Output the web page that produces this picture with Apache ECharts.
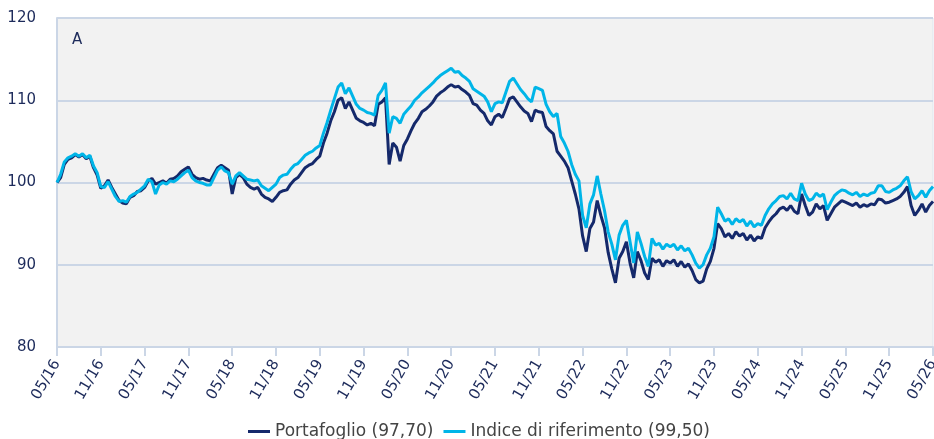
<!DOCTYPE html>
<html>
<head>
<meta charset="utf-8">
<script src="https://cdn.jsdelivr.net/npm/echarts@6/dist/echarts.min.js"></script>
<style>
html,body{margin:0;padding:0;background:#fff;}
#c{width:934px;height:439px;}
</style>
</head>
<body>
<div id="c"></div>
<script>
// Half-monthly observations from 05/2016 to 05/2026
const seriesNames = ['Portafoglio (97,70)', 'Indice di riferimento (99,50)'];
const tickLabels = ['05/16','11/16','05/17','11/17','05/18','11/18','05/19','11/19','05/20','11/20','05/21','11/21','05/22','11/22','05/23','11/23','05/24','11/24','05/25','11/25','05/26'];
const yTicks = [80, 90, 100, 110, 120];

const portafoglio = [
100.0,100.6,102.2,102.8,103.0,103.4,103.1,103.4,102.9,103.2,101.8,100.9,99.3,
99.6,100.3,99.4,98.6,97.8,97.5,97.4,98.2,98.4,98.9,99.0,99.4,
100.2,100.5,99.8,100.0,100.2,99.9,100.4,100.5,100.8,101.3,101.6,101.9,
101.0,100.6,100.4,100.5,100.3,100.2,101.0,101.8,102.1,101.8,101.5,98.6,
100.6,101.0,100.6,99.8,99.4,99.2,99.4,98.6,98.2,98.0,97.7,98.2,
98.8,99.0,99.1,99.8,100.3,100.6,101.2,101.8,102.1,102.3,102.8,103.2,
104.8,106.0,107.5,108.6,110.0,110.3,109.0,109.8,108.8,107.8,107.5,107.3,
107.0,107.2,106.9,109.5,109.8,110.3,102.2,104.8,104.3,102.6,104.5,105.3,
106.3,107.2,107.8,108.6,108.9,109.3,109.8,110.5,110.9,111.2,111.6,111.9,
111.6,111.7,111.3,111.0,110.6,109.6,109.4,108.8,108.4,107.5,107.0,108.0,
108.3,107.9,109.0,110.2,110.4,109.8,109.2,108.7,108.4,107.4,108.8,108.6,
108.5,106.8,106.3,105.9,103.8,103.2,102.6,101.8,100.2,98.6,96.8,93.5,
91.6,94.4,95.2,97.8,96.0,94.5,91.5,89.5,87.8,90.8,91.6,92.8,
90.2,88.4,91.6,90.5,89.0,88.2,90.8,90.3,90.6,89.8,90.5,90.2,
90.6,89.8,90.4,89.7,90.1,89.3,88.2,87.8,88.0,89.5,90.4,92.0,
95.0,94.4,93.4,93.8,93.2,94.0,93.5,93.8,93.0,93.6,92.9,93.4,
93.2,94.5,95.2,95.8,96.2,96.8,97.0,96.6,97.2,96.5,96.2,98.6,
97.2,96.0,96.4,97.4,96.8,97.2,95.4,96.2,97.0,97.4,97.8,97.6,
97.4,97.2,97.5,97.0,97.3,97.1,97.4,97.3,98.0,97.9,97.5,97.6,
97.8,98.0,98.3,98.8,99.5,97.2,96.0,96.6,97.4,96.4,97.2,97.7
];

const indice = [
100.0,101.0,102.5,103.0,103.2,103.5,103.2,103.5,103.0,103.3,102.0,101.2,99.5,
99.4,100.1,99.2,98.3,97.7,97.8,97.6,98.3,98.6,98.8,99.2,99.6,
100.4,100.1,98.6,99.7,100.0,99.8,100.2,100.1,100.4,100.8,101.2,101.5,
100.6,100.2,100.0,99.9,99.7,99.7,100.6,101.5,101.9,101.4,101.2,99.8,
100.8,101.2,100.8,100.4,100.3,100.2,100.3,99.6,99.3,99.0,99.4,99.8,
100.6,100.9,101.0,101.6,102.1,102.3,102.8,103.3,103.6,103.8,104.2,104.5,
106.0,107.3,108.8,110.2,111.6,112.1,110.8,111.5,110.5,109.5,109.0,108.8,
108.5,108.4,108.2,110.6,111.2,112.1,106.0,108.0,107.8,107.2,108.3,108.8,
109.3,110.0,110.4,110.9,111.3,111.7,112.1,112.6,113.0,113.3,113.6,113.9,
113.4,113.5,113.0,112.7,112.3,111.4,111.1,110.8,110.5,109.8,108.6,109.6,
109.8,109.7,111.0,112.3,112.7,112.0,111.3,110.8,110.2,109.8,111.6,111.4,
111.2,109.5,108.6,108.0,108.4,105.6,104.8,103.8,102.2,101.0,100.2,96.0,
94.5,97.4,98.5,100.8,98.6,96.6,94.0,92.5,90.6,93.6,94.8,95.4,
92.8,90.2,94.0,92.6,91.0,89.8,93.2,92.4,92.6,91.9,92.5,92.2,
92.5,91.8,92.3,91.7,92.0,91.2,90.2,89.6,90.0,91.2,92.0,93.4,
97.0,96.2,95.3,95.6,94.9,95.6,95.2,95.5,94.7,95.3,94.6,95.0,
94.8,96.0,96.8,97.4,97.8,98.3,98.4,98.0,98.7,98.0,97.8,99.9,
98.6,97.8,98.0,98.7,98.3,98.6,96.7,97.6,98.4,98.8,99.1,99.0,
98.7,98.5,98.8,98.3,98.6,98.4,98.7,98.8,99.6,99.6,98.9,98.8,
99.1,99.3,99.6,100.2,100.7,98.9,98.0,98.4,99.0,98.2,99.0,99.5
];

const toPairs = arr => arr.map((v, i) => [i * 0.5, v]);
const FONT = 'DejaVu Sans';
const NAVY = '#1d2b5b';
const GRID = '#cbd6e6';

const chart = echarts.init(document.getElementById('c'), null, {renderer: 'canvas'});
chart.setOption({
  animation: false,
  textStyle: {fontFamily: FONT},
  title: {
    text: 'A', left: 67, top: 28,
    textStyle: {fontFamily: FONT, fontSize: 15, fontWeight: 'normal', color: NAVY}
  },
  grid: {
    left: 57, right: 1, top: 18, bottom: 92,
    containLabel: false, outerBoundsMode: 'none',
    show: true, backgroundColor: '#f2f2f2', borderColor: '#dfe6ef', borderWidth: 1
  },
  legend: {
    left: 243, top: 418,
    itemWidth: 22, itemHeight: 3, itemGap: 10,
    icon: 'rect',
    textStyle: {fontFamily: FONT, fontSize: 17, color: '#444444'},
    data: seriesNames
  },
  xAxis: {
    type: 'value', min: 0, max: 120, interval: 6,
    axisLine: {show: true, onZero: false, lineStyle: {color: GRID, width: 2}},
    axisTick: {show: true, length: 9, lineStyle: {color: GRID, width: 2}},
    splitLine: {show: false},
    axisLabel: {
      rotate: 60, fontFamily: FONT, fontSize: 15, color: NAVY, margin: 14,
      hideOverlap: false, showMaxLabel: true, showMinLabel: true,
      formatter: v => tickLabels[Math.round(v / 6)]
    }
  },
  yAxis: {
    type: 'value', min: yTicks[0], max: yTicks[yTicks.length - 1], interval: 10,
    axisLine: {show: true, lineStyle: {color: GRID, width: 2}},
    axisTick: {show: false},
    splitLine: {show: true, lineStyle: {color: GRID, width: 2}},
    axisLabel: {fontFamily: FONT, fontSize: 15, color: NAVY, margin: 21}
  },
  series: [
    {
      name: seriesNames[0], type: 'line', data: toPairs(portafoglio),
      showSymbol: false, symbol: 'none',
      lineStyle: {color: '#15296b', width: 3}, itemStyle: {color: '#15296b'}
    },
    {
      name: seriesNames[1], type: 'line', data: toPairs(indice),
      showSymbol: false, symbol: 'none',
      lineStyle: {color: '#00b5e8', width: 3}, itemStyle: {color: '#00b5e8'}
    }
  ]
});
</script>
</body>
</html>
